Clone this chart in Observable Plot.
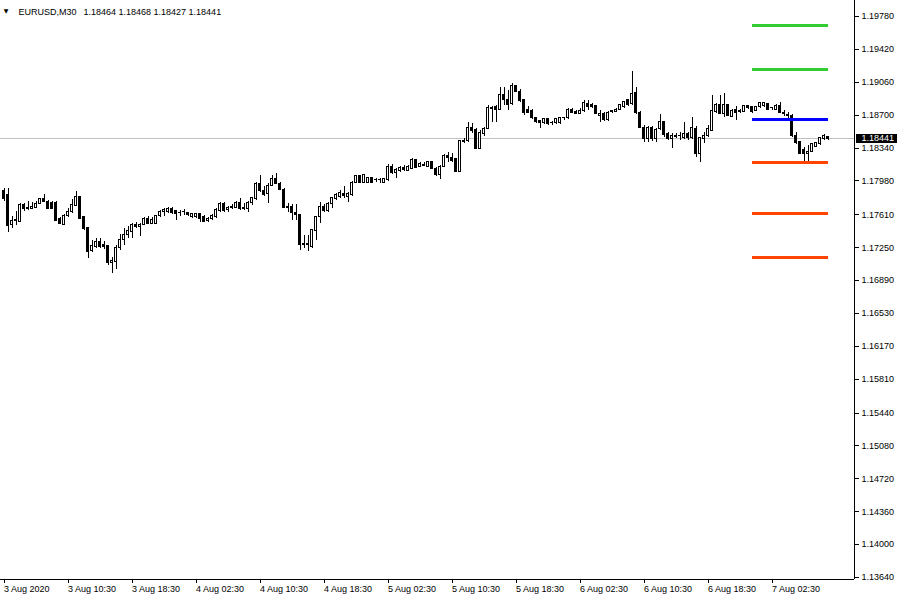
<!DOCTYPE html>
<html><head><meta charset="utf-8">
<script src="https://cdn.jsdelivr.net/npm/d3@7"></script>
<script src="https://cdn.jsdelivr.net/npm/@observablehq/plot@0.6"></script>
<style>
html,body{margin:0;padding:0;background:#fff;}
#chart svg{display:block;}
</style></head><body><div id="chart"></div>
<script>
const symbol = "EURUSD,M30";
const open = [
1.17875,1.17821,1.17503,1.17548,1.17536,1.17722,1.17668,1.17678,1.17689,1.17733,
1.17777,1.17755,1.17744,1.17744,1.17569,1.17503,1.17591,1.17635,1.17711,1.17799,
1.17580,1.17460,1.17208,1.17252,1.17317,1.17274,1.17263,1.17077,1.17098,1.17241,
1.17339,1.17383,1.17416,1.17503,1.17471,1.17503,1.17569,1.17514,1.17514,1.17591,
1.17635,1.17635,1.17678,1.17646,1.17624,1.17636,1.17624,1.17580,1.17580,1.17613,
1.17580,1.17547,1.17569,1.17580,1.17646,1.17733,1.17657,1.17690,1.17689,1.17744,
1.17679,1.17678,1.17744,1.17777,1.17952,1.17875,1.17832,1.17930,1.17996,1.17952,
1.17886,1.17690,1.17700,1.17624,1.17602,1.17285,1.17295,1.17252,1.17427,1.17580,
1.17700,1.17646,1.17733,1.17777,1.17799,1.17832,1.17799,1.17821,1.17963,1.18029,
1.17963,1.17963,1.18007,1.17986,1.17985,1.17963,1.17985,1.18138,1.18062,1.18094,
1.18127,1.18094,1.18116,1.18204,1.18138,1.18149,1.18138,1.18182,1.18116,1.18040,
1.18138,1.18248,1.18226,1.18215,1.18083,1.18401,1.18412,1.18565,1.18543,1.18335,
1.18499,1.18554,1.18772,1.18784,1.18762,1.18926,1.18861,1.18817,1.19014,1.18959,
1.18861,1.18762,1.18751,1.18664,1.18631,1.18609,1.18653,1.18610,1.18609,1.18609,
1.18665,1.18664,1.18762,1.18740,1.18718,1.18751,1.18817,1.18806,1.18795,1.18696,
1.18718,1.18642,1.18741,1.18740,1.18762,1.18784,1.18861,1.18817,1.18948,1.18729,
1.18565,1.18434,1.18565,1.18434,1.18554,1.18620,1.18499,1.18434,1.18466,1.18467,
1.18445,1.18499,1.18445,1.18554,1.18270,1.18434,1.18477,1.18532,1.18740,1.18806,
1.18718,1.18806,1.18685,1.18762,1.18741,1.18740,1.18795,1.18784,1.18751,1.18784,
1.18795,1.18817,1.18774,1.18762,1.18795,1.18719,1.18697,1.18696,1.18477,1.18401,
1.18324,1.18270,1.18302,1.18357,1.18379,1.18434,1.18464];
const high = [
1.17897,1.17897,1.17591,1.17646,1.17733,1.17733,1.17755,1.17744,1.17755,1.17788,
1.17832,1.17766,1.17755,1.17755,1.17580,1.17613,1.17678,1.17777,1.17865,1.17810,
1.17591,1.17471,1.17328,1.17350,1.17350,1.17317,1.17274,1.17142,1.17274,1.17394,
1.17460,1.17481,1.17514,1.17525,1.17514,1.17580,1.17591,1.17580,1.17602,1.17657,
1.17678,1.17689,1.17689,1.17657,1.17657,1.17668,1.17635,1.17624,1.17624,1.17624,
1.17602,1.17580,1.17613,1.17678,1.17744,1.17744,1.17700,1.17722,1.17755,1.17788,
1.17733,1.17755,1.17799,1.17963,1.18040,1.17919,1.17952,1.18040,1.18062,1.17963,
1.17897,1.17733,1.17722,1.17722,1.17613,1.17383,1.17383,1.17449,1.17591,1.17744,
1.17722,1.17744,1.17799,1.17843,1.17875,1.17919,1.17854,1.17974,1.18040,1.18040,
1.18051,1.18018,1.18018,1.18007,1.18007,1.18007,1.18160,1.18160,1.18116,1.18138,
1.18149,1.18149,1.18226,1.18215,1.18182,1.18182,1.18193,1.18193,1.18127,1.18149,
1.18270,1.18291,1.18280,1.18226,1.18423,1.18445,1.18620,1.18609,1.18554,1.18532,
1.18565,1.18806,1.18795,1.18806,1.19003,1.19003,1.18970,1.19047,1.19025,1.18981,
1.18871,1.18795,1.18762,1.18674,1.18642,1.18664,1.18664,1.18631,1.18664,1.18674,
1.18674,1.18773,1.18773,1.18751,1.18773,1.18861,1.18861,1.18828,1.18806,1.18751,
1.18729,1.18740,1.18751,1.18773,1.18817,1.18850,1.18871,1.19178,1.19003,1.18740,
1.18587,1.18576,1.18576,1.18554,1.18707,1.18631,1.18510,1.18499,1.18499,1.18510,
1.18620,1.18510,1.18674,1.18576,1.18456,1.18510,1.18587,1.18915,1.18828,1.18915,
1.18937,1.18817,1.18762,1.18795,1.18762,1.18806,1.18806,1.18795,1.18795,1.18839,
1.18839,1.18828,1.18784,1.18817,1.18839,1.18751,1.18729,1.18707,1.18510,1.18412,
1.18346,1.18368,1.18390,1.18401,1.18456,1.18488,1.18468];
const low = [
1.17755,1.17416,1.17460,1.17492,1.17525,1.17646,1.17657,1.17668,1.17678,1.17722,
1.17744,1.17668,1.17668,1.17536,1.17503,1.17492,1.17580,1.17624,1.17700,1.17558,
1.17438,1.17131,1.17197,1.17241,1.17241,1.17230,1.17055,1.16967,1.17011,1.17219,
1.17274,1.17350,1.17350,1.17460,1.17372,1.17492,1.17503,1.17503,1.17503,1.17580,
1.17591,1.17624,1.17613,1.17547,1.17591,1.17602,1.17591,1.17569,1.17569,1.17525,
1.17525,1.17525,1.17547,1.17569,1.17635,1.17635,1.17635,1.17668,1.17678,1.17657,
1.17657,1.17635,1.17711,1.17766,1.17854,1.17810,1.17733,1.17919,1.17941,1.17875,
1.17678,1.17635,1.17547,1.17547,1.17219,1.17241,1.17208,1.17241,1.17328,1.17514,
1.17635,1.17635,1.17678,1.17766,1.17788,1.17788,1.17744,1.17810,1.17952,1.17952,
1.17952,1.17952,1.17952,1.17963,1.17952,1.17952,1.17974,1.18051,1.18007,1.18072,
1.18083,1.18083,1.18105,1.18116,1.18127,1.18138,1.18127,1.18105,1.18029,1.17996,
1.18127,1.18182,1.18182,1.18072,1.18072,1.18390,1.18401,1.18499,1.18324,1.18324,
1.18467,1.18543,1.18620,1.18620,1.18751,1.18806,1.18751,1.18806,1.18948,1.18839,
1.18696,1.18718,1.18653,1.18609,1.18554,1.18598,1.18587,1.18587,1.18598,1.18598,
1.18642,1.18653,1.18718,1.18707,1.18707,1.18729,1.18751,1.18773,1.18707,1.18620,
1.18631,1.18631,1.18718,1.18729,1.18751,1.18773,1.18795,1.18806,1.18707,1.18554,
1.18401,1.18401,1.18412,1.18401,1.18532,1.18456,1.18423,1.18335,1.18445,1.18423,
1.18434,1.18423,1.18434,1.18237,1.18182,1.18390,1.18456,1.18521,1.18718,1.18707,
1.18674,1.18685,1.18674,1.18642,1.18718,1.18729,1.18762,1.18718,1.18740,1.18773,
1.18784,1.18751,1.18751,1.18751,1.18718,1.18685,1.18664,1.18456,1.18379,1.18270,
1.18193,1.18193,1.18291,1.18346,1.18368,1.18423,1.18427];
const close = [
1.17777,1.17492,1.17547,1.17547,1.17722,1.17668,1.17689,1.17700,1.17733,1.17777,
1.17755,1.17678,1.17678,1.17547,1.17514,1.17591,1.17635,1.17722,1.17799,1.17569,
1.17449,1.17197,1.17263,1.17317,1.17252,1.17252,1.17077,1.17109,1.17241,1.17339,
1.17383,1.17427,1.17503,1.17481,1.17503,1.17569,1.17514,1.17558,1.17591,1.17635,
1.17657,1.17678,1.17624,1.17613,1.17625,1.17635,1.17602,1.17613,1.17613,1.17569,
1.17536,1.17569,1.17591,1.17657,1.17733,1.17646,1.17689,1.17689,1.17744,1.17678,
1.17678,1.17744,1.17788,1.17952,1.17875,1.17821,1.17930,1.17996,1.17952,1.17886,
1.17689,1.17689,1.17624,1.17602,1.17274,1.17284,1.17274,1.17438,1.17580,1.17700,
1.17646,1.17733,1.17788,1.17821,1.17843,1.17810,1.17832,1.17963,1.18029,1.17963,
1.18040,1.18007,1.17963,1.17985,1.17986,1.17996,1.18138,1.18062,1.18105,1.18127,
1.18105,1.18138,1.18204,1.18127,1.18171,1.18160,1.18182,1.18116,1.18040,1.18138,
1.18248,1.18226,1.18193,1.18083,1.18412,1.18412,1.18565,1.18532,1.18335,1.18510,
1.18554,1.18773,1.18773,1.18762,1.18926,1.18861,1.18806,1.19014,1.18959,1.18850,
1.18729,1.18729,1.18664,1.18620,1.18609,1.18653,1.18598,1.18609,1.18653,1.18664,
1.18664,1.18762,1.18729,1.18718,1.18751,1.18828,1.18784,1.18784,1.18718,1.18718,
1.18642,1.18729,1.18740,1.18762,1.18806,1.18839,1.18806,1.18937,1.18729,1.18565,
1.18434,1.18565,1.18434,1.18543,1.18620,1.18488,1.18434,1.18467,1.18467,1.18468,
1.18499,1.18445,1.18565,1.18270,1.18445,1.18477,1.18554,1.18751,1.18806,1.18718,
1.18806,1.18696,1.18751,1.18729,1.18740,1.18795,1.18773,1.18740,1.18784,1.18828,
1.18828,1.18762,1.18773,1.18795,1.18729,1.18718,1.18696,1.18467,1.18390,1.18280,
1.18270,1.18302,1.18379,1.18390,1.18445,1.18467,1.18441];

const yTicks = [1.19780,1.19420,1.19060,1.18700,1.18340,1.17980,1.17610,1.17250,1.16890,
  1.16530,1.16170,1.15810,1.15440,1.15080,1.14720,1.14360,1.14000,1.13640];
const xTickBars = [0,16,32,48,64,80,96,112,128,144,160,176,192];
const xTickLabels = ["3 Aug 2020","3 Aug 10:30","3 Aug 18:30","4 Aug 02:30","4 Aug 10:30",
  "4 Aug 18:30","5 Aug 02:30","5 Aug 10:30","5 Aug 18:30","6 Aug 02:30","6 Aug 10:30",
  "6 Aug 18:30","7 Aug 02:30"];
const levelNames = ["R2","R1","P","S1","S2","S3"];
const levelValues = [1.19681,1.19197,1.18653,1.18179,1.17621,1.17146];
const levelColors = ["#32cd32","#32cd32","#0000ff","#ff4500","#ff4500","#ff4500"];
const levelStartBar = 187;
const levelEndBar = 206;
const xDomain = [-0.875, 212.625];
const yDomain = [1.13618, 1.19955];

const bars = open.map((o, i) => ({i, o, h: high[i], l: low[i], c: close[i]}));
const up = bars.filter(d => d.c >= d.o);
const down = bars.filter(d => d.c < d.o);
const n = bars.length - 1;
const last = close[n];
const headerPrices = [open[n], high[n], low[n], close[n]].map(v => v.toFixed(5)).join(" ");

const chart = Plot.plot({
  width: 900, height: 600,
  marginTop: 0, marginRight: 46, marginBottom: 21, marginLeft: 0,
  style: {background: "#fff", color: "#000", fontFamily: "'Liberation Sans', Arial, sans-serif",
          fontSize: "9px", overflow: "visible", shapeRendering: "crispEdges"},
  x: {type: "linear", domain: xDomain, axis: null},
  y: {type: "linear", domain: yDomain, axis: null},
  marks: [
    Plot.ruleY([last], {stroke: "#c0c0c0", strokeWidth: 1}),
    Plot.ruleX(bars, {x: "i", y1: "l", y2: "h", stroke: "#000", strokeWidth: 1}),
    Plot.rect(up, {x1: d => d.i - 0.25, x2: d => d.i + 0.25, y1: "o", y2: "c", fill: "#fff", stroke: "#000", strokeWidth: 1}),
    Plot.rect(down, {x1: d => d.i - 0.25, x2: d => d.i + 0.25, y1: "o", y2: "c", fill: "#000", stroke: "#000", strokeWidth: 1}),
    ...levelValues.map((v, k) => Plot.ruleY([v], {x1: levelStartBar, x2: levelEndBar, stroke: levelColors[k], strokeWidth: 3})),
    Plot.ruleX([xDomain[1]], {stroke: "#000"}),
    Plot.ruleY([yDomain[0]], {stroke: "#000"}),
    Plot.axisY(yTicks, {anchor: "right", tickSize: 4, tickPadding: 3, tickFormat: d => d.toFixed(5), label: null}),
    Plot.axisX(xTickBars, {anchor: "bottom", tickSize: 4, tickPadding: 2, label: null,
      tickFormat: d => xTickLabels[xTickBars.indexOf(d)], textAnchor: "start"}),
    Plot.text(["\u25BC"], {frameAnchor: "top-left", dx: 5.5, dy: 11, textAnchor: "middle", lineAnchor: "middle", fontSize: 6, fontFamily: "'DejaVu Sans', sans-serif"}),
    Plot.text([symbol], {frameAnchor: "top-left", dx: 18, dy: 8, textAnchor: "start", lineAnchor: "top"}),
    Plot.text([headerPrices], {frameAnchor: "top-left", dx: 83, dy: 8, textAnchor: "start", lineAnchor: "top"})
  ]
});

document.getElementById("chart").appendChild(chart);

// current price label on the right axis
const yy = chart.scale("y").apply(last);
const svg = d3.select(chart);
const g = svg.append("g").attr("text-anchor", "start");
g.append("rect").attr("x", 856).attr("y", yy - 4.8).attr("width", 41).attr("height", 9.6).attr("fill", "#000");
g.append("text").attr("x", 861.5).attr("y", yy).attr("dy", "0.32em").attr("fill", "#fff").text(last.toFixed(5));
</script>
</body></html>
